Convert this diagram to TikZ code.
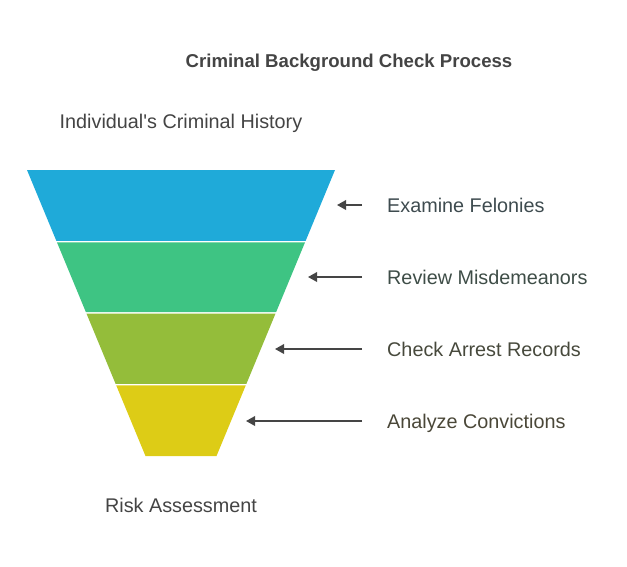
\documentclass[tikz,border=0pt]{standalone}
\usepackage{fontspec}
\setmainfont{Liberation Sans}
\usetikzlibrary{arrows.meta}

\definecolor{bandblue}{HTML}{1FAAD9}
\definecolor{bandgreen}{HTML}{3EC483}
\definecolor{bandolive}{HTML}{94BD3A}
\definecolor{bandyellow}{HTML}{DDCC16}
\definecolor{pointergray}{HTML}{454545}
\definecolor{titlegray}{HTML}{444444}
\definecolor{txtblue}{HTML}{3E4B4F}
\definecolor{txtgreen}{HTML}{3E4D47}
\definecolor{txtolive}{HTML}{47493C}
\definecolor{txtyellow}{HTML}{4A4738}

\begin{document}
\begin{tikzpicture}[x=1pt,y=-1pt,
    stufe/.style={
      anchor=base west,
      inner sep=0pt,
      font=\fontsize{19.8}{23}\selectfont},
    ende/.style={
      anchor=base,
      inner sep=0pt,
      text=titlegray,
      font=\fontsize{19.8}{23}\selectfont},
    zeiger/.style={
      draw=pointergray,
      line width=1.8pt,
      -{Triangle[length=9pt,width=9.5pt]}}
    ]

  \useasboundingbox (0,0) rectangle (627,566);

  \node at (349,67.5) (titel) [anchor=base, inner sep=0pt, text=titlegray, font=\fontsize{18.6}{22}\selectfont\bfseries] {Criminal Background Check Process};
  \node at (181,128) (eingang) [ende] {Individual\textquotesingle s Criminal History};
  \node at (181,512) (ausgang) [ende] {Risk Assessment};

  % funnel bands
  \foreach \ytop/\ybot/\farbe in {170/240.9/bandblue, 242.3/312.2/bandgreen, 313.6/383.9/bandolive, 385.3/456/bandyellow}
    \fill[\farbe] ({27+0.4143*(\ytop-170)},\ytop) -- ({335-0.4143*(\ytop-170)},\ytop)
      -- ({335-0.4143*(\ybot-170)},\ybot) -- ({27+0.4143*(\ybot-170)},\ybot) -- cycle;

  \node at (387,212) (felonies) [stufe, text=txtblue] {Examine Felonies};
  \node at (387,284) (misdemeanors) [stufe, text=txtgreen] {Review Misdemeanors};
  \node at (387,356) (arrests) [stufe, text=txtolive] {Check Arrest Records};
  \node at (387,428) (convictions) [stufe, text=txtyellow] {Analyze Convictions};

  \coordinate (spitze0) at (337,205);
  \coordinate (spitze1) at (308,277);
  \coordinate (spitze2) at (275,349);
  \coordinate (spitze3) at (246,421);
  \coordinate (ansatz0) at (362,205);
  \coordinate (ansatz1) at (362,277);
  \coordinate (ansatz2) at (362,349);
  \coordinate (ansatz3) at (362,421);

  \foreach \i in {0,...,3}
    \draw[zeiger] (ansatz\i) -- (spitze\i);

\end{tikzpicture}
\end{document}
